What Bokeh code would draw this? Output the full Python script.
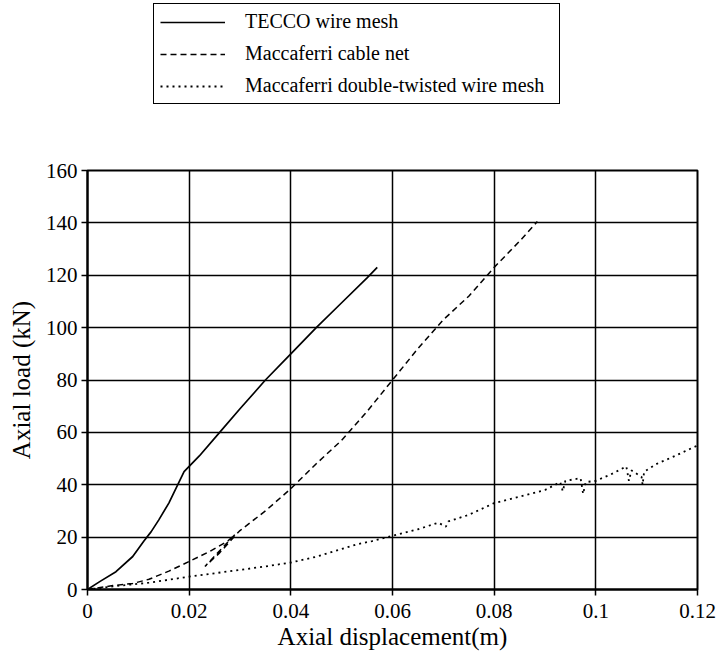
from bokeh.plotting import figure
from bokeh.layouts import column
from bokeh.models import Range1d, FixedTicker, Legend, LegendItem, CustomJSTickFormatter
from bokeh.embed import file_html
from bokeh.resources import INLINE

# TECCO wire mesh (solid)
tecco_x = [0, 0.0024, 0.0056, 0.0089, 0.0111, 0.0125, 0.014, 0.016, 0.018, 0.019, 0.020,
           0.022, 0.026, 0.030, 0.035, 0.040, 0.045, 0.050, 0.055, 0.057]
tecco_y = [0, 3, 6.8, 12.6, 18.5, 22, 26.5, 33, 41, 45, 47,
           51, 60, 69, 80, 90, 100, 109.5, 119, 123]

# Maccaferri cable net (dashed)
cable_x = [0, 0.005, 0.0089, 0.0121, 0.016, 0.020, 0.024, 0.0276, 0.029, 0.0231, 0.026,
           0.029, 0.030, 0.035, 0.040, 0.045, 0.050, 0.055, 0.060, 0.065, 0.070, 0.075,
           0.080, 0.085, 0.0885]
cable_y = [0, 1.5, 2.3, 3.9, 7, 10.7, 14.5, 18.5, 21, 8.8, 14,
           20.5, 22.5, 30, 38.5, 48, 57, 68, 80, 92, 103, 112,
           123, 133, 140.5]

# Maccaferri double-twisted wire mesh (dotted)
dt_x = [0, 0.005, 0.0121, 0.020, 0.025, 0.030, 0.035, 0.040, 0.045, 0.0529, 0.056,
        0.060, 0.065, 0.069, 0.0705, 0.071, 0.075, 0.080, 0.085, 0.090, 0.093, 0.0935,
        0.094, 0.097, 0.0975, 0.098, 0.100, 0.103, 0.106, 0.1065, 0.107, 0.109, 0.1092,
        0.1095, 0.112, 0.115, 0.120]
dt_y = [0, 1.2, 2.6, 4.9, 6.2, 7.5, 8.8, 10.3, 12.5, 17.2, 18.5,
        20.5, 23, 25.5, 24, 26, 28.5, 33, 35.5, 38, 41, 37.5,
        41.5, 42.5, 36.5, 41, 41.5, 44, 47, 41.5, 45.5, 43, 40,
        45, 48, 50.5, 55]

x_ticks = [0, 0.02, 0.04, 0.06, 0.08, 0.1, 0.12]
y_ticks = [0, 20, 40, 60, 80, 100, 120, 140, 160]

labels = ["TECCO wire mesh", "Maccaferri cable net", "Maccaferri double-twisted wire mesh"]
series = [(tecco_x, tecco_y), (cable_x, cable_y), (dt_x, dt_y)]

FONT = "Liberation Serif"
styles = [dict(line_color="black", line_width=1.7),
          dict(line_color="black", line_width=1.5, line_dash="6 4"),
          dict(line_color="black", line_width=1.8, line_dash="2 4")]

# ---------------- main chart ----------------
p = figure(width=720, height=499, output_backend="svg", toolbar_location=None,
           x_range=Range1d(0, 0.12), y_range=Range1d(0, 160),
           min_border_left=87, min_border_right=23, min_border_top=10,
           min_border_bottom=70)

p.background_fill_color = "white"
p.border_fill_color = "white"
p.outline_line_color = "black"
p.outline_line_width = 2

p.xaxis.ticker = FixedTicker(ticks=x_ticks)
p.yaxis.ticker = FixedTicker(ticks=y_ticks)
p.xaxis.formatter = CustomJSTickFormatter(code="return tick.toString();")
p.xaxis.axis_label = "Axial displacement(m)"
p.yaxis.axis_label = "Axial load (kN)"

for ax in (p.xaxis, p.yaxis):
    ax.axis_line_color = "black"
    ax.axis_line_width = 2
    ax.major_tick_line_color = "black"
    ax.major_tick_line_width = 1.5
    ax.major_tick_out = 6
    ax.major_tick_in = 0
    ax.minor_tick_line_color = None
    ax.major_label_text_font = FONT
    ax.major_label_text_font_size = "21px"
    ax.major_label_text_color = "black"
    ax.axis_label_text_font = FONT
    ax.axis_label_text_font_size = "25px"
    ax.axis_label_text_font_style = "normal"
    ax.axis_label_text_color = "black"

p.xaxis.major_label_standoff = 8
p.yaxis.major_label_standoff = 4
p.xaxis.axis_label_standoff = 2
p.yaxis.axis_label_standoff = 8

for g in (p.xgrid, p.ygrid):
    g.grid_line_color = "black"
    g.grid_line_width = 1.5
    g.grid_line_alpha = 1.0

for (sx, sy), s in zip(series, styles):
    p.line(sx, sy, **s)

# ---------------- legend strip above the chart ----------------
# The same series are plotted far outside this strip's visible range,
# so only their legend samples show.
lg = figure(width=720, height=160, output_backend="svg", toolbar_location=None,
            x_range=Range1d(5, 6), y_range=Range1d(500, 600), min_border=0)
lg.axis.visible = False
lg.grid.visible = False
lg.outline_line_color = None
lg.background_fill_color = "white"
lg.border_fill_color = "white"

lr = [lg.line(sx, sy, **s) for (sx, sy), s in zip(series, styles)]

legend = Legend(items=[LegendItem(label=labels[i], renderers=[lr[i]]) for i in range(3)],
                location=(66, 56))
legend.border_line_color = "black"
legend.border_line_width = 1.8
legend.border_line_alpha = 1.0
legend.label_text_font = FONT
legend.label_text_font_size = "20px"
legend.label_text_color = "black"
legend.glyph_width = 65
legend.glyph_height = 22
legend.label_height = 22
legend.label_width = 308
legend.label_standoff = 20
legend.spacing = 9
legend.padding = 6
legend.margin = 0
legend.background_fill_alpha = 1.0
lg.add_layout(legend, "center")

layout = column(lg, p, spacing=0)
open("out.html", "w").write(file_html(layout, INLINE))
